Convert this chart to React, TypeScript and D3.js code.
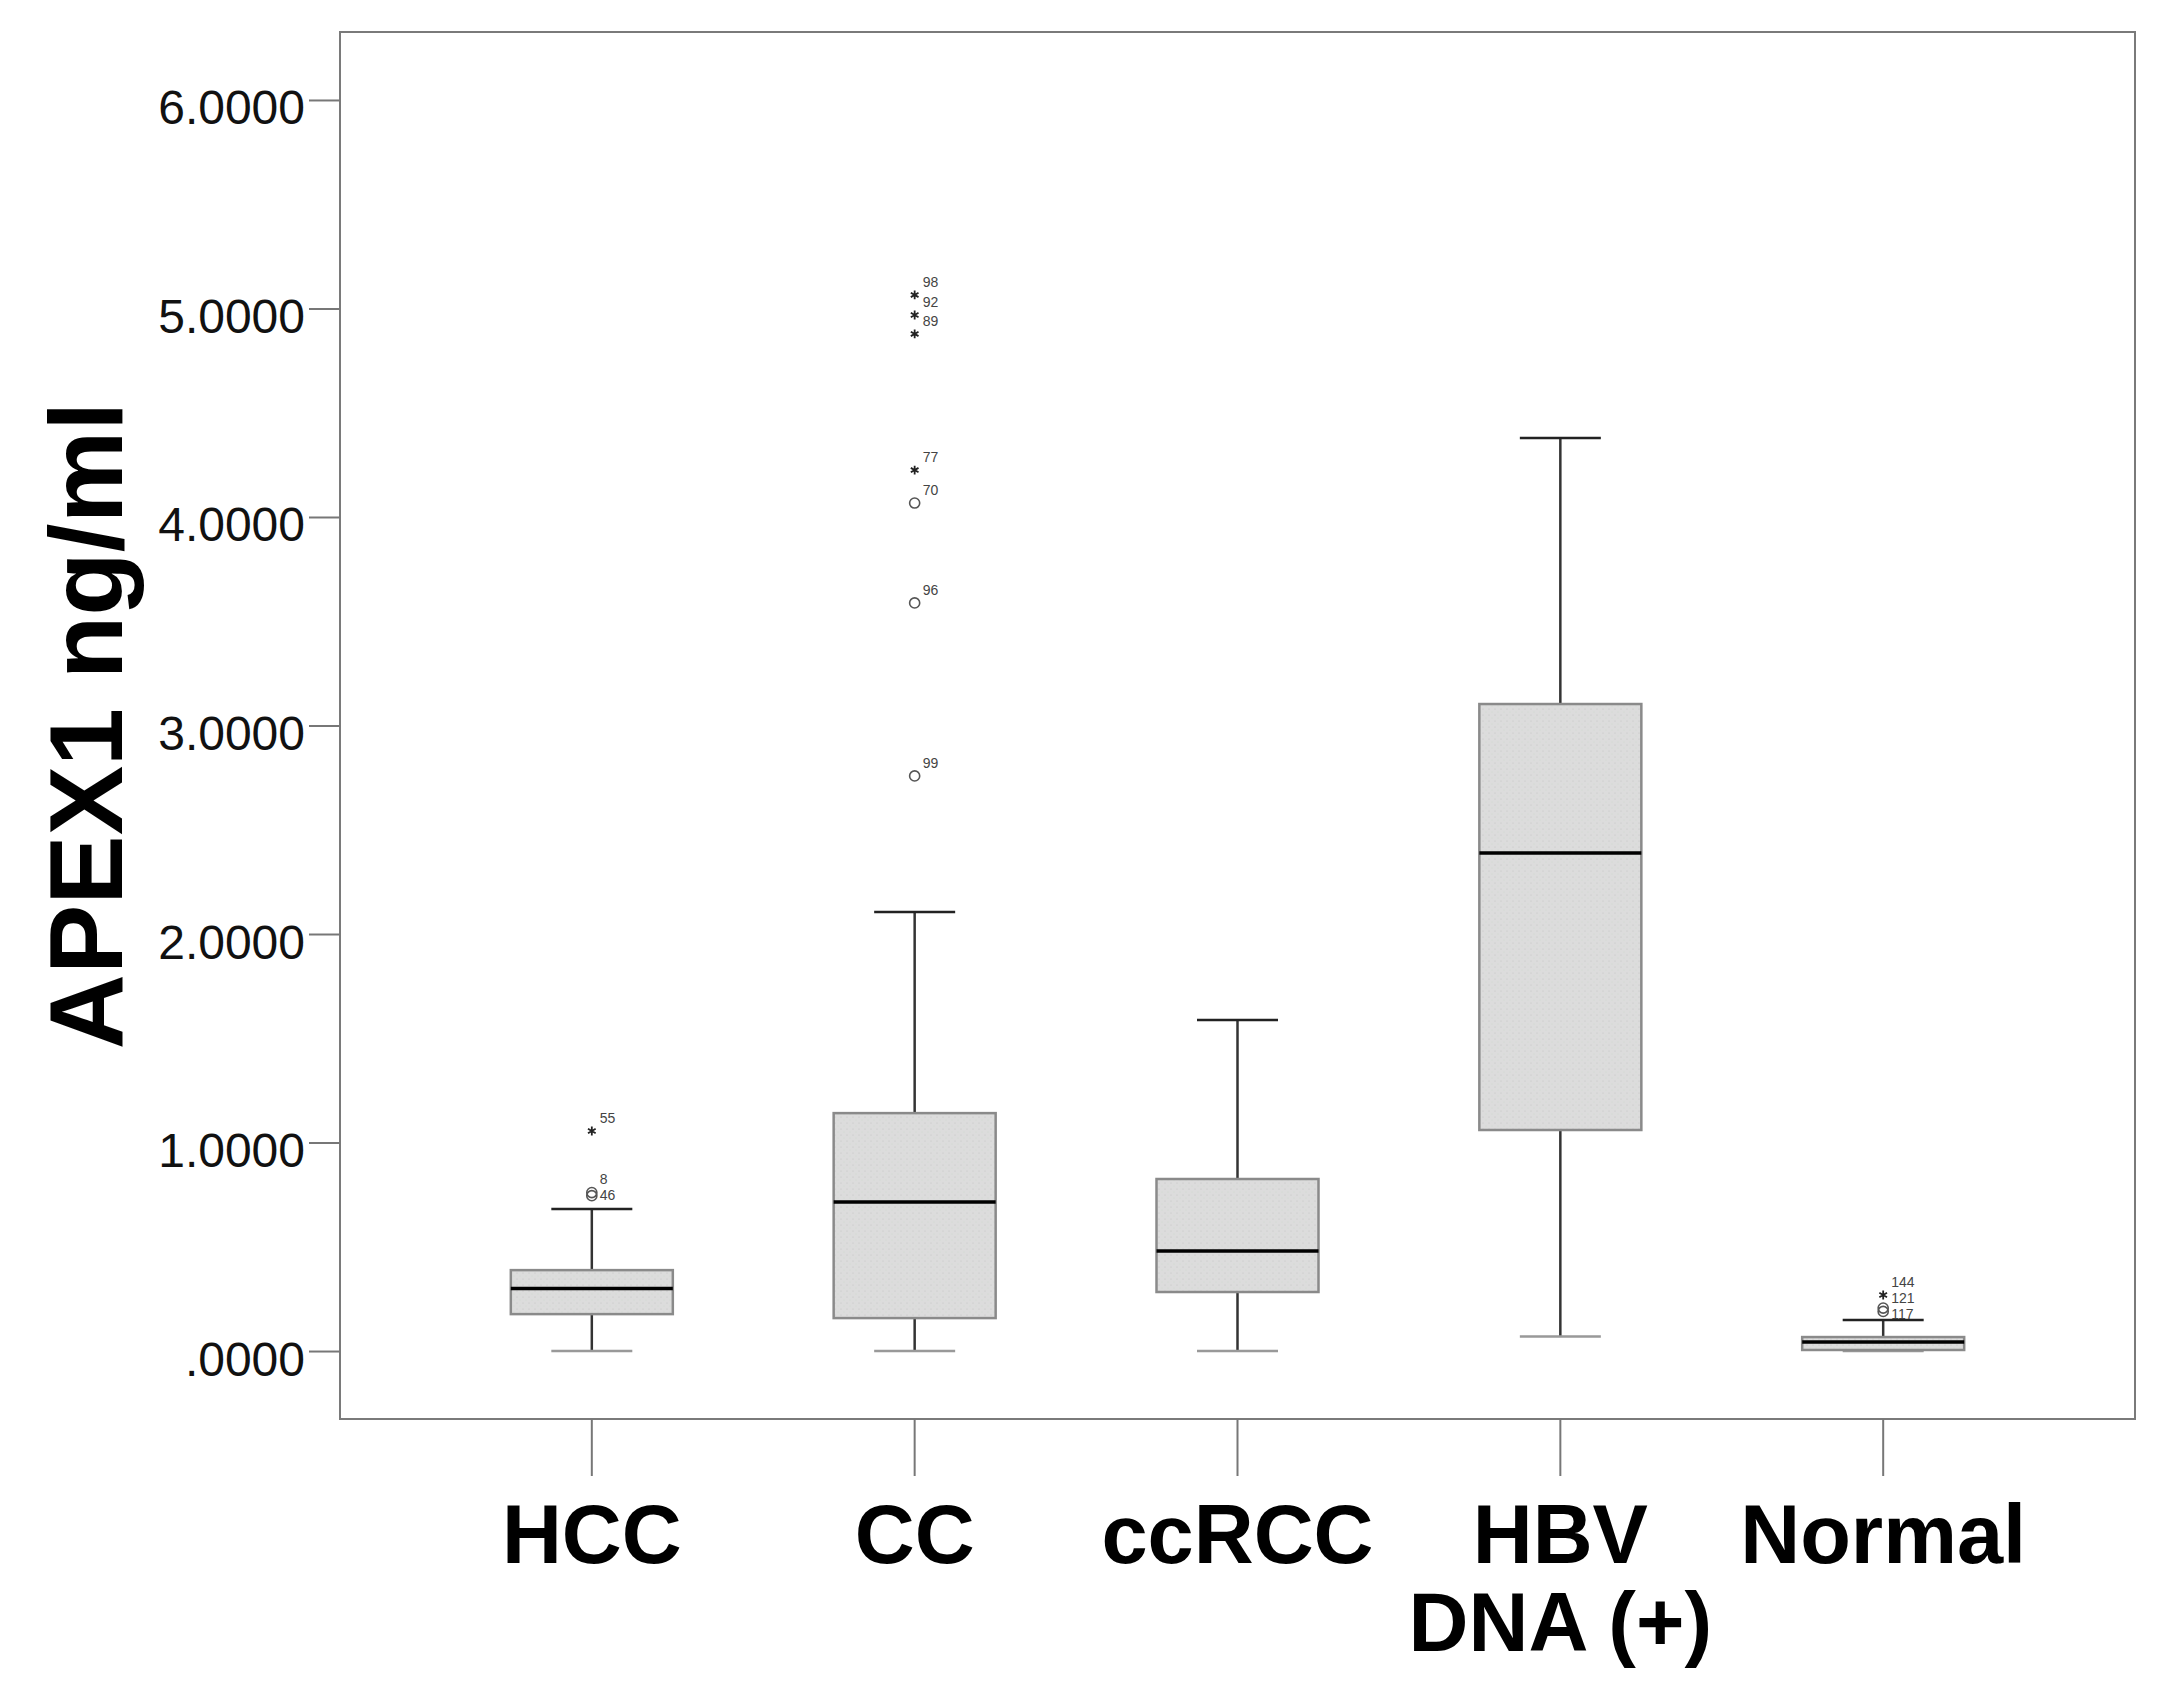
import React, { useEffect, useRef } from 'react';
import * as d3 from 'd3';

// groups on the x axis (multi-line labels split into lines)
const groups = ['HCC', 'CC', 'ccRCC', 'HBV DNA (+)', 'Normal'];
const groupLines = [['HCC'], ['CC'], ['ccRCC'], ['HBV', 'DNA (+)'], ['Normal']];

// box plot statistics, APEX1 ng/ml
const lowerWhisker = [0.0, 0.0, 0.0, 0.07, 0.0];
const q1 = [0.177, 0.158, 0.283, 1.06, 0.005];
const median = [0.3, 0.715, 0.48, 2.388, 0.043];
const q3 = [0.388, 1.141, 0.825, 3.103, 0.067];
const upperWhisker = [0.681, 2.105, 1.588, 4.379, 0.149];

// outliers: 'o' = circle, '*' = extreme
const outlierGroup = ['HCC', 'HCC', 'HCC', 'CC', 'CC', 'CC', 'CC', 'CC', 'CC', 'CC', 'Normal', 'Normal', 'Normal'];
const outlierValue = [1.055, 0.76, 0.745, 5.065, 4.969, 4.878, 4.225, 4.067, 3.588, 2.758, 0.269, 0.206, 0.19];
const outlierKind = ['*', 'o', 'o', '*', '*', '*', '*', 'o', 'o', 'o', '*', 'o', 'o'];
const outlierId = ['55', '8', '46', '98', '92', '89', '77', '70', '96', '99', '144', '121', '117'];

const yTicks = [0, 1, 2, 3, 4, 5, 6];

const App: React.FC = () => {
  const ref = useRef<SVGSVGElement>(null);
  const W = 2167;
  const H = 1694;
  const frame = { left: 340, right: 2135, top: 32, bottom: 1419 };

  useEffect(() => {
    if (!ref.current) return;
    const svg = d3.select(ref.current);
    svg.selectAll('*').remove();

    const x = d3
      .scalePoint<string>()
      .domain(groups)
      .range([frame.left, frame.right])
      .padding(0.78);

    const y = d3
      .scaleLinear()
      .domain([-0.326, 6.326])
      .range([frame.bottom, frame.top]);

    const boxW = 162;
    const capW = 81;

    // stippled fill like SPSS
    const defs = svg.append('defs');
    const pat = defs
      .append('pattern')
      .attr('id', 'stip')
      .attr('width', 6)
      .attr('height', 6)
      .attr('patternUnits', 'userSpaceOnUse');
    pat.append('rect').attr('width', 6).attr('height', 6).attr('fill', '#dcdcdc');
    pat.append('circle').attr('cx', 1).attr('cy', 1).attr('r', 0.6).attr('fill', '#c4c4c4');
    pat.append('circle').attr('cx', 4).attr('cy', 4).attr('r', 0.6).attr('fill', '#cfd8cf');

    // frame
    svg
      .append('rect')
      .attr('x', frame.left)
      .attr('y', frame.top)
      .attr('width', frame.right - frame.left)
      .attr('height', frame.bottom - frame.top)
      .attr('fill', 'none')
      .attr('stroke', '#7a7a7a')
      .attr('stroke-width', 2);

    // y axis
    const fmt = d3.format('.4f');
    const yAxis = svg
      .append('g')
      .attr('transform', `translate(${frame.left},0)`)
      .call(
        d3
          .axisLeft(y)
          .tickValues(yTicks)
          .tickSize(31)
          .tickPadding(4)
          .tickFormat((d) => (+d === 0 ? '.0000' : fmt(+d)))
      );
    yAxis.select('.domain').remove();
    yAxis.selectAll('.tick line').attr('stroke', '#777').attr('stroke-width', 2);
    yAxis
      .selectAll('.tick text')
      .attr('fill', '#111')
      .attr('dy', '0.5em')
      .style('font-family', 'Liberation Sans, Arial, sans-serif')
      .style('font-size', '48px');

    // x axis ticks below the frame
    svg
      .append('g')
      .selectAll('line')
      .data(groups)
      .enter()
      .append('line')
      .attr('x1', (d) => x(d)!)
      .attr('x2', (d) => x(d)!)
      .attr('y1', frame.bottom)
      .attr('y2', frame.bottom + 57)
      .attr('stroke', '#777')
      .attr('stroke-width', 2);

    // x labels
    const xl = svg
      .append('g')
      .style('font-family', 'Liberation Sans, Arial, sans-serif')
      .style('font-weight', 'bold')
      .style('font-size', '83px');
    groups.forEach((g, i) => {
      groupLines[i].forEach((line, j) => {
        xl.append('text')
          .attr('x', x(g)!)
          .attr('y', 1563 + j * 88)
          .attr('text-anchor', 'middle')
          .attr('fill', '#000')
          .text(line);
      });
    });

    // y title
    svg
      .append('text')
      .attr('transform', `translate(122,${(frame.top + frame.bottom) / 2}) rotate(-90)`)
      .attr('text-anchor', 'middle')
      .style('font-family', 'Liberation Sans, Arial, sans-serif')
      .style('font-weight', 'bold')
      .style('font-size', '104px')
      .attr('fill', '#000')
      .text('APEX1 ng/ml');

    // boxes
    const boxes = svg.append('g');
    groups.forEach((g, i) => {
      const cx = x(g)!;
      // whiskers
      boxes
        .append('line')
        .attr('x1', cx)
        .attr('x2', cx)
        .attr('y1', y(upperWhisker[i]))
        .attr('y2', y(q3[i]))
        .attr('stroke', '#333')
        .attr('stroke-width', 2.5);
      boxes
        .append('line')
        .attr('x1', cx)
        .attr('x2', cx)
        .attr('y1', y(lowerWhisker[i]))
        .attr('y2', y(q1[i]))
        .attr('stroke', '#333')
        .attr('stroke-width', 2.5);
      [upperWhisker[i], lowerWhisker[i]].forEach((v, k) => {
        boxes
          .append('line')
          .attr('x1', cx - capW / 2)
          .attr('x2', cx + capW / 2)
          .attr('y1', y(v))
          .attr('y2', y(v))
          .attr('stroke', k === 0 ? '#222' : '#999')
          .attr('stroke-width', 2.5);
      });
      boxes
        .append('rect')
        .attr('x', cx - boxW / 2)
        .attr('y', y(q3[i]))
        .attr('width', boxW)
        .attr('height', Math.max(1, y(q1[i]) - y(q3[i])))
        .attr('fill', 'url(#stip)')
        .attr('stroke', '#8a8a8a')
        .attr('stroke-width', 2.5);
      boxes
        .append('line')
        .attr('x1', cx - boxW / 2)
        .attr('x2', cx + boxW / 2)
        .attr('y1', y(median[i]))
        .attr('y2', y(median[i]))
        .attr('stroke', '#000')
        .attr('stroke-width', 3.5);
    });

    // outliers
    const out = svg.append('g');
    const star = d3.symbol().type(d3.symbolAsterisk).size(55);
    const circ = d3.symbol().type(d3.symbolCircle).size(80);
    const lastLabelY: Record<string, number> = {};
    outlierValue.forEach((v, i) => {
      const g = outlierGroup[i];
      const cx = x(g)!;
      const cy = y(v);
      out
        .append('path')
        .attr('transform', `translate(${cx},${cy})`)
        .attr('d', outlierKind[i] === '*' ? star()! : circ()!)
        .attr('fill', 'none')
        .attr('stroke', outlierKind[i] === '*' ? '#222' : '#555')
        .attr('stroke-width', outlierKind[i] === '*' ? 1.8 : 1.6);
      let ly = cy - 13;
      if (lastLabelY[g] !== undefined && ly < lastLabelY[g] + 16) ly = lastLabelY[g] + 16;
      lastLabelY[g] = ly;
      out
        .append('text')
        .attr('x', cx + 8)
        .attr('y', ly)
        .attr('dy', '0.35em')
        .style('font-family', 'Liberation Sans, Arial, sans-serif')
        .style('font-size', '14px')
        .attr('fill', '#444')
        .text(outlierId[i]);
    });
  }, []);

  return (
    <svg
      ref={ref}
      width={W}
      height={H}
      style={{ position: 'absolute', left: 0, top: 0, background: '#fff' }}
    />
  );
};

export default App;
